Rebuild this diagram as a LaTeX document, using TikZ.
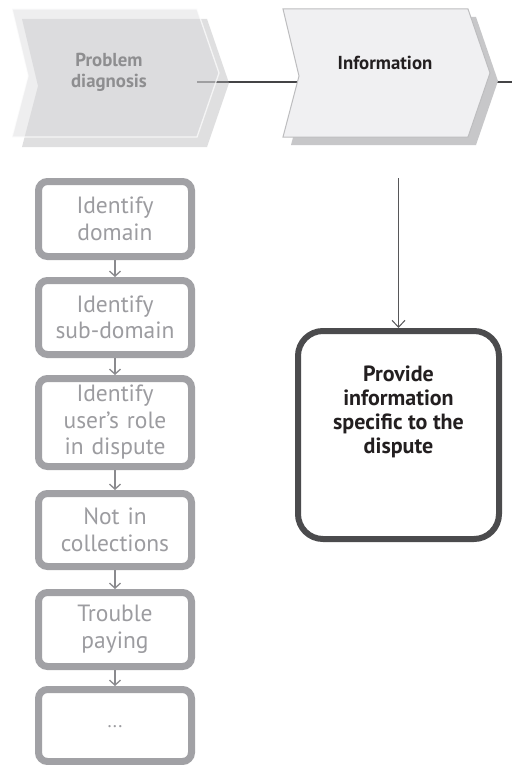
\documentclass[tikz,border=0pt]{standalone}
\usepackage{fontspec}
\setmainfont{PT Sans}
\usetikzlibrary{arrows.meta}
\definecolor{boxgray}{HTML}{A1A1A5}
\definecolor{boxtext}{HTML}{9C9CA0}
\definecolor{flowgray}{HTML}{8A8A8E}
\definecolor{darkbox}{HTML}{4B4B4D}
\definecolor{chevfill}{HTML}{F0F0F2}
\definecolor{chevline}{HTML}{BDBDBF}
\definecolor{chevshadow}{HTML}{C7C7C9}
\definecolor{fadeshadow}{HTML}{B1B1B3}
\definecolor{fadefill}{HTML}{DADADC}
\definecolor{fadetext}{HTML}{8E8E90}
\definecolor{textdark}{HTML}{231F20}
\definecolor{linkdark}{HTML}{444446}
\begin{document}
\begin{tikzpicture}[x=1pt,y=-1pt,
  stepbox/.style={draw=boxgray, line width=7pt, rounded corners=9pt,
    minimum width=153pt, text width=150pt, align=center, text=boxtext,
    inner sep=0pt, font=\fontsize{23.5}{26.5}\selectfont},
  infobox/.style={draw=darkbox, line width=6pt, rounded corners=25pt,
    minimum width=201pt, minimum height=208pt, inner sep=0pt},
  infotxt/.style={text=textdark, align=center, inner sep=0pt,
    font=\fontsize{22}{24}\selectfont\bfseries},
  chevtxt/.style={align=center, inner sep=0pt,
    font=\fontsize{18.8}{21}\selectfont\bfseries},
  flow/.style={draw=flowgray, line width=1.5pt,
    -{Straight Barb[length=5pt,width=11pt,line width=1.3pt]}},
  drop/.style={draw=linkdark!90, line width=1pt,
    -{Straight Barb[length=7pt,width=13pt,line width=1pt]}},
  link/.style={draw=linkdark, line width=1.7pt},
  chevshape/.style={line width=1pt}
]
\useasboundingbox (0,0) rectangle (512,765);
\fill[white] (0,0) rectangle (512,765);

% connector coordinates
\coordinate (c1out) at (197,82);
\coordinate (c2in) at (297.5,82);
\coordinate (c2out) at (468,82);
\coordinate (rightend) at (512,82);

% connectors between the chevrons (drawn beneath them)
\draw[link] (c1out) -- (c2in);
\draw[link] (c2out) -- (rightend);

% chevron 2 : Information
\fill[chevshadow] (291,17) -- (476,17) -- (498,81) -- (476,145) -- (291,145) -- (307,84) -- cycle;
\filldraw[chevshape, fill=chevfill, draw=chevline] (283,9) -- (468,9) -- (490,73) -- (468,137) -- (283,137) -- (299,76) -- cycle;
\node[chevtxt, text=textdark] (info) at (385,63) {Information};

% chevron 1 : Problem diagnosis (faded)
\begin{scope}[shift={(-271,0)}]
\fill[fadeshadow, opacity=0.4] (293,19) -- (478,19) -- (500,83) -- (478,147) -- (293,147) -- (309,86) -- cycle;
\fill[fadefill, opacity=0.45] (283,9) -- (468,9) -- (490,73) -- (468,137) -- (283,137) -- (299,76) -- cycle;
\draw[white, opacity=0.7, line width=1.3pt] (283,9) -- (468,9) -- (490,73) -- (468,137) -- (283,137) -- (299,76) -- cycle;
\end{scope}
\node[chevtxt, text=fadetext] (diag) at (109,72) {Problem\\diagnosis};

% left column of steps
\node[stepbox, minimum height=75pt] (b1) at (115,219) {Identify\\domain};
\node[stepbox, minimum height=74pt] (b2) at (115,317.5) {Identify\\sub-domain};
\node[stepbox, minimum height=88pt] (b3) at (115,422.5) {Identify\\user's role\\in dispute};
\node[stepbox, minimum height=73pt] (b4) at (115,530) {Not in\\collections};
\node[stepbox, minimum height=74pt] (b5) at (115,629.5) {Trouble\\paying};
\node[stepbox, minimum height=72pt] (b6) at (115,725.5) {\raisebox{-4pt}{\fontsize{19}{20}\selectfont ...}};

\draw[flow] (b1.south) -- (b2.north);
\draw[flow] (b2.south) -- (b3.north);
\draw[flow] (b3.south) -- (b4.north);
\draw[flow] (b4.south) -- (b5.north);
\draw[flow] (b5.south) -- (b6.north);

% information box
\node[infobox] (ibox) at (398.5,435) {};
\node[infotxt] (itext) at (398.5,412) {Provide\\information\\specific to the\\dispute};
\coordinate (dropstart) at (398.5,178);
\draw[drop] (dropstart) -- (ibox.north);
\end{tikzpicture}
\end{document}
